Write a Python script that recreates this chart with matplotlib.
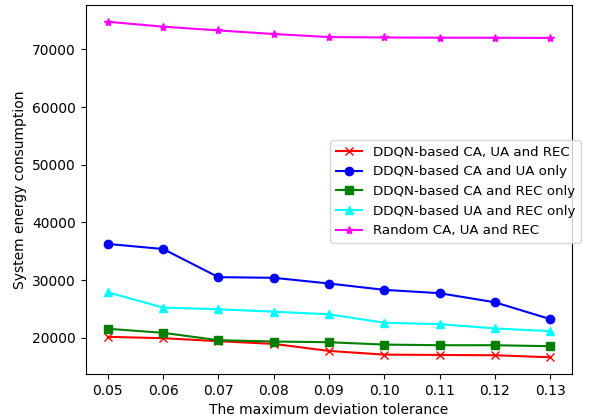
import matplotlib
matplotlib.use("Agg")
import matplotlib.pyplot as plt

tolerance = [0.05, 0.06, 0.07, 0.08, 0.09, 0.10, 0.11, 0.12, 0.13]
tick_labels = ["0.05", "0.06", "0.07", "0.08", "0.09", "0.10", "0.11", "0.12", "0.13"]

ddqn_full = [20170, 19940, 19420, 18950, 17730, 17090, 17030, 16980, 16630]
ddqn_ca_ua = [36280, 35400, 30520, 30410, 29420, 28320, 27740, 26170, 23260]
ddqn_ca_rec = [21570, 20870, 19590, 19360, 19240, 18830, 18720, 18720, 18550]
ddqn_ua_rec = [27900, 25240, 24950, 24540, 24080, 22620, 22380, 21630, 21160]
random_all = [74800, 73950, 73300, 72680, 72150, 72080, 72040, 72030, 72000]

fig = plt.figure(figsize=(5.96, 4.17), dpi=100)
ax = fig.add_axes([0.144, 0.103, 0.816, 0.885])

ax.plot(tolerance, ddqn_full, color='red', marker='x', label='DDQN-based CA, UA and REC')
ax.plot(tolerance, ddqn_ca_ua, color='blue', marker='o', label='DDQN-based CA and UA only')
ax.plot(tolerance, ddqn_ca_rec, color='green', marker='s', label='DDQN-based CA and REC only')
ax.plot(tolerance, ddqn_ua_rec, color='cyan', marker='^', label='DDQN-based UA and REC only')
ax.plot(tolerance, random_all, color='magenta', marker='*', label='Random CA, UA and REC')

ax.set_xticks(tolerance)
ax.set_xticklabels(tick_labels)
ax.set_xlabel('The maximum deviation tolerance')
ax.set_ylabel('System energy consumption')
ax.legend(loc='center right', bbox_to_anchor=(1.031, 0.495), fontsize=9.6)

plt.savefig('out.png', dpi=100)
